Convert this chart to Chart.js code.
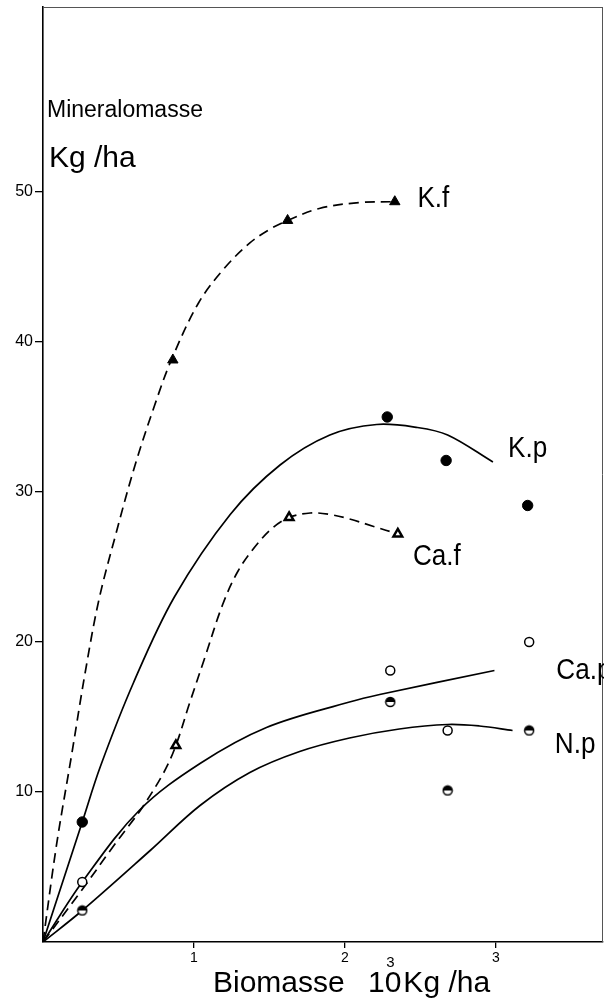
<!DOCTYPE html>
<html>
<head>
<meta charset="utf-8">
<script src="https://cdn.jsdelivr.net/npm/chart.js@4"></script>
<style>
  html, body { margin: 0; padding: 0; background: #fff; }
  canvas { display: block; }
</style>
</head>
<body>
<canvas id="mineralChart" width="604" height="1003"></canvas>
<script>
// Achsen-Ticks
const xTicks = [1, 2, 3];
const yTicks = [10, 20, 30, 40, 50];

// Messpunkte (Biomasse 10^3 kg/ha, Mineralomasse kg/ha)
const kfX = [0.86, 1.62, 2.33];
const kfY = [38.8, 48.1, 49.35];
const kpX = [0.26, 2.28, 2.67, 3.21];
const kpY = [8.0, 35.0, 32.1, 29.1];
const cafX = [0.88, 1.63, 2.35];
const cafY = [13.1, 28.3, 27.2];
const capX = [0.26, 2.30, 2.68, 3.22];
const capY = [4.0, 18.1, 14.1, 20.0];
const npX = [0.26, 2.30, 2.68, 3.22];
const npY = [2.1, 16.0, 10.1, 14.1];

// Ausgleichskurven
const kfCurveX = [0, 0.09, 0.19, 0.28, 0.37, 0.48, 0.61, 0.74, 0.85, 1.03, 1.2, 1.37, 1.5, 1.62, 1.83, 2.1, 2.33];
const kfCurveY = [0, 6.5, 12.5, 18.0, 22.8, 27.1, 31.8, 35.8, 38.8, 42.6, 44.9, 46.6, 47.5, 48.1, 48.9, 49.3, 49.35];
const kpCurveX = [0, 0.26, 0.38, 0.6, 0.87, 1.24, 1.57, 1.9, 2.21, 2.48, 2.68, 2.98];
const kpCurveY = [0, 8.0, 11.7, 17.3, 23.0, 28.5, 31.8, 33.8, 34.5, 34.3, 33.8, 32.0];
const cafCurveX = [0, 0.26, 0.46, 0.58, 0.66, 0.8, 0.88, 0.97, 1.07, 1.19, 1.29, 1.4, 1.52, 1.63, 1.77, 1.9, 2.03, 2.19, 2.35];
const cafCurveY = [0, 3.5, 6.3, 7.9, 9.0, 11.3, 13.1, 15.9, 18.9, 22.5, 24.7, 26.3, 27.6, 28.3, 28.6, 28.5, 28.2, 27.7, 27.2];
const capCurveX = [0, 0.26, 0.64, 1.04, 1.48, 2.03, 2.23, 2.99];
const capCurveY = [0, 4.0, 8.8, 11.9, 14.3, 16.0, 16.5, 18.1];
const npCurveX = [0, 0.26, 0.71, 1.04, 1.37, 1.7, 2.03, 2.36, 2.68, 2.89, 3.11];
const npCurveY = [0, 2.1, 6.1, 9.1, 11.3, 12.7, 13.6, 14.2, 14.5, 14.4, 14.1];

// Beschriftungen der Kurven
const seriesNames = ['K.f', 'K.p', 'Ca.f', 'Ca.p', 'N.p'];
const labelAnchorX = [2.48, 3.08, 2.45, 3.40, 3.39];
const labelAnchorY = [49.0, 32.3, 25.1, 17.5, 12.6];

const FONT = '"Liberation Sans", Arial, sans-serif';

function toXY(xs, ys) {
    return xs.map((x, i) => ({ x: x, y: ys[i] }));
}

// halb gefuellter Kreis fuer N.p
function halfDot() {
    const c = document.createElement('canvas');
    c.width = 12; c.height = 12;
    const g = c.getContext('2d');
    g.beginPath(); g.arc(6, 6, 4.5, 0, Math.PI * 2);
    g.fillStyle = '#fff'; g.fill();
    g.beginPath(); g.arc(6, 6, 4.5, Math.PI, Math.PI * 2);
    g.fillStyle = '#000'; g.fill();
    g.beginPath(); g.arc(6, 6, 4.5, 0, Math.PI * 2);
    g.lineWidth = 1.5; g.strokeStyle = '#000'; g.stroke();
    return c;
}

function curve(xs, ys, dashed) {
    return {
        data: toXY(xs, ys),
        showLine: true,
        borderColor: '#000',
        borderWidth: 1.7,
        borderDash: dashed ? [10, 6] : [],
        pointRadius: 0,
        tension: 0.35,
        order: 2
    };
}

function markers(xs, ys, style, radius, fill, bw) {
    return {
        data: toXY(xs, ys),
        showLine: false,
        pointStyle: style,
        pointRadius: radius,
        pointBackgroundColor: fill,
        pointBorderColor: '#000',
        pointBorderWidth: bw,
        order: 1
    };
}

// keine Zusatzraender der Skalen
function noPad(s) {
    s.paddingLeft = 0; s.paddingRight = 0;
    s.paddingTop = 0; s.paddingBottom = 0;
}

// Texte und Rahmen
const textPlugin = {
    id: 'texts',
    afterDraw(chart) {
        const ctx = chart.ctx;
        const a = chart.chartArea;
        const sx = chart.scales.x, sy = chart.scales.y;
        ctx.save();
        ctx.fillStyle = '#000';
        ctx.textBaseline = 'alphabetic';
        ctx.textAlign = 'left';

        // Rahmen oben und rechts
        ctx.strokeStyle = '#555';
        ctx.lineWidth = 1;
        ctx.beginPath();
        ctx.moveTo(a.left, a.top + 0.5);
        ctx.lineTo(a.right, a.top + 0.5);
        ctx.moveTo(a.right - 0.5, a.top);
        ctx.lineTo(a.right - 0.5, a.bottom);
        ctx.stroke();

        // Kurvennamen (schmale Schrift)
        ctx.font = '30px ' + FONT;
        seriesNames.forEach((name, i) => {
            ctx.save();
            ctx.translate(sx.getPixelForValue(labelAnchorX[i]), sy.getPixelForValue(labelAnchorY[i]));
            ctx.scale(0.87, 1);
            ctx.fillText(name, 0, 0);
            ctx.restore();
        });

        // y-Achsentitel
        ctx.font = '23px ' + FONT;
        ctx.fillText('Mineralomasse', a.left + 4, a.top + 110);
        ctx.font = '30px ' + FONT;
        ctx.fillText('Kg /ha', a.left + 6, a.top + 160);

        // x-Achsentitel
        const base = a.bottom + 50;
        ctx.font = '30px ' + FONT;
        ctx.fillText('Biomasse', a.left + 170, base);
        ctx.fillText('10', a.left + 325, base);
        const w10 = ctx.measureText('10').width;
        ctx.fillText('Kg /ha', a.left + 325 + w10 + 2, base);
        ctx.font = '15px ' + FONT;
        ctx.fillText('3', a.left + 325 + w10 - 15, base - 25);
        ctx.restore();
    }
};

new Chart(document.getElementById('mineralChart'), {
    type: 'scatter',
    data: {
        datasets: [
            curve(kfCurveX, kfCurveY, true),
            curve(kpCurveX, kpCurveY, false),
            curve(cafCurveX, cafCurveY, true),
            curve(capCurveX, capCurveY, false),
            curve(npCurveX, npCurveY, false),
            markers(kfX, kfY, 'triangle', 6, '#000', 1),
            markers(kpX, kpY, 'circle', 5.2, '#000', 1),
            markers(cafX, cafY, 'triangle', 5, '#fff', 2.5),
            markers(capX, capY, 'circle', 4.5, '#fff', 1.5),
            markers(npX, npY, halfDot(), 6, '#000', 0)
        ]
    },
    options: {
        responsive: false,
        animation: false,
        devicePixelRatio: 1,
        layout: { autoPadding: false, padding: { top: 7, right: 1, left: 0, bottom: 0 } },
        plugins: {
            legend: { display: false },
            tooltip: { enabled: false }
        },
        scales: {
            x: {
                type: 'linear',
                min: 0,
                max: 3.709,
                afterBuildTicks: s => { s.ticks = xTicks.map(v => ({ value: v })); },
                afterFit: s => { s.height = 61; noPad(s); },
                grid: { drawOnChartArea: false, drawTicks: true, tickLength: 6, color: '#000', lineWidth: 1.3 },
                border: { display: true, color: '#000', width: 1.6 },
                ticks: { color: '#000', font: { family: FONT, size: 14 }, padding: 2, maxRotation: 0, autoSkip: false }
            },
            y: {
                type: 'linear',
                min: 0,
                max: 62.33,
                afterBuildTicks: s => { s.ticks = yTicks.map(v => ({ value: v })); },
                afterFit: s => { s.width = 43; noPad(s); },
                grid: { drawOnChartArea: false, drawTicks: true, tickLength: 8, color: '#000', lineWidth: 1.3 },
                border: { display: true, color: '#000', width: 1.6 },
                ticks: { color: '#000', font: { family: FONT, size: 16 }, padding: 2, autoSkip: false }
            }
        }
    },
    plugins: [textPlugin]
});
</script>
</body>
</html>
